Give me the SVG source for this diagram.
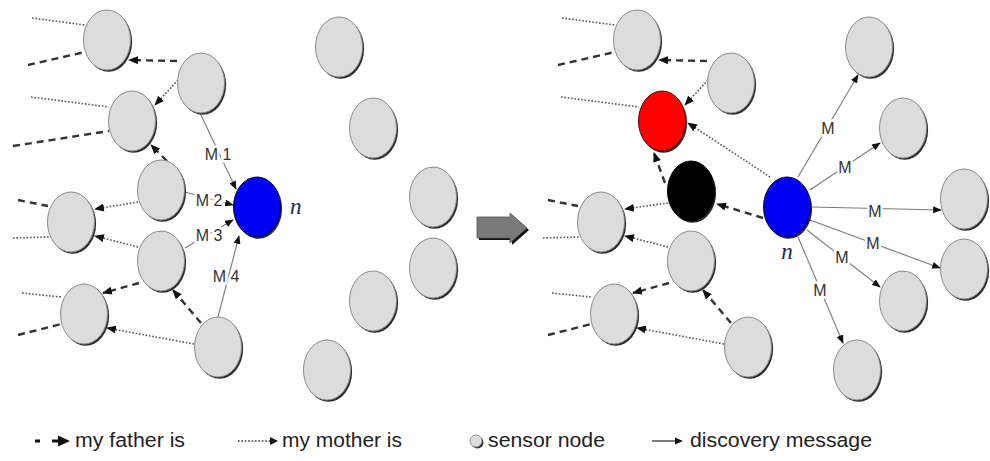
<svg xmlns="http://www.w3.org/2000/svg" width="990" height="461" viewBox="0 0 990 461">
  <style>
    .sh { fill: #2b2b2b; }
    .nd { fill: #dcdcdc; stroke: #8a8a8a; stroke-width: 1; }
    .blue { fill: #0000f5; stroke: #000040; stroke-width: 1; }
    .red { fill: #ff0000; stroke: #5a0000; stroke-width: 1; }
    .blk { fill: #000000; stroke: #000000; stroke-width: 1; }
    .dash { fill: none; stroke: #333; stroke-width: 2.4; stroke-dasharray: 7 5; }
    .dot { fill: none; stroke: #555; stroke-width: 1.6; stroke-dasharray: 1.6 1.8; }
    .msg { fill: none; stroke: #7a7a7a; stroke-width: 1.1; }
    .ml { font-family: "Liberation Sans", Arial, sans-serif; font-size: 16px; fill: #333; text-anchor: middle; dominant-baseline: central; stroke: #fff; stroke-width: 5; paint-order: stroke; }
    .nl { font-family: "Liberation Serif", "DejaVu Serif", serif; font-style: italic; font-size: 23px; fill: #1f2a4a; }
    .lg { font-family: "Liberation Sans", Arial, sans-serif; font-size: 20px; fill: #222; }
  </style>
  <defs>
    <marker id="ah" viewBox="0 0 10 8" refX="9" refY="4" markerWidth="10" markerHeight="8" markerUnits="userSpaceOnUse" orient="auto">
      <path d="M0,0 L10,4 L0,8 Z" fill="#111"/>
    </marker>
    <marker id="ahs" viewBox="0 0 10 8" refX="9" refY="4" markerWidth="9" markerHeight="7" markerUnits="userSpaceOnUse" orient="auto">
      <path d="M0,0 L10,4 L0,8 Z" fill="#111"/>
    </marker>
    <g id="gnode">
      <ellipse class="sh" cx="1.6" cy="1.8" rx="23.5" ry="30"/>
      <ellipse class="nd" cx="0" cy="0" rx="23.5" ry="30"/>
    </g>
  </defs>

  <!-- connectors -->
  <g id="connectors">
    <!-- left network -->
    <path class="dot" d="M32,18 L85,25"/>
    <path class="dash" d="M28,65 L85,52"/>
    <path class="dash" d="M177,61 L129,60" marker-end="url(#ah)"/>
    <path class="dot" d="M178,80 L155,105" marker-end="url(#ah)"/>
    <path class="dot" d="M31,97 L109,107"/>
    <path class="dash" d="M13,146 L109,131"/>
    <path class="dash" d="M167,161 L151,145" marker-end="url(#ah)"/>
    <path class="dot" d="M138,202 L95,209" marker-end="url(#ah)"/>
    <path class="dash" d="M18,200 L48,206"/>
    <path class="dot" d="M13,238 L49,237"/>
    <path class="dot" d="M138,247 L95,236" marker-end="url(#ah)"/>
    <path class="dash" d="M139,283 L103,293" marker-end="url(#ah)"/>
    <path class="dot" d="M22,293 L61,297"/>
    <path class="dash" d="M18,335 L61,324"/>
    <path class="dot" d="M194,344 L107,328" marker-end="url(#ah)"/>
    <path class="dash" d="M201,323 L173,290" marker-end="url(#ah)"/>
    <!-- messages towards n -->
    <path class="msg" d="M200,113 L236,189" marker-end="url(#ahs)"/>
    <path class="msg" d="M185,192 L233,205" marker-end="url(#ahs)"/>
    <path class="msg" d="M185,248 L233,220" marker-end="url(#ahs)"/>
    <path class="msg" d="M218,317 L239,236" marker-end="url(#ahs)"/>
    <text class="ml" x="218" y="154">M 1</text>
    <text class="ml" x="209" y="200">M 2</text>
    <text class="ml" x="209" y="235">M 3</text>
    <text class="ml" x="226" y="276">M 4</text>

    <!-- right network -->
    <path class="dot" d="M562,18 L615,25"/>
    <path class="dash" d="M558,65 L615,52"/>
    <path class="dash" d="M707,61 L659,60" marker-end="url(#ah)"/>
    <path class="dot" d="M708,80 L685,105" marker-end="url(#ah)"/>
    <path class="dot" d="M561,97 L639,107"/>
    <path class="dot" d="M770,177 L688,123" marker-end="url(#ah)"/>
    <path class="dash" d="M665,183 L654,153" marker-end="url(#ah)"/>
    <path class="dash" d="M763,218 L717,204" marker-end="url(#ah)"/>
    <path class="dot" d="M668,203 L625,209" marker-end="url(#ah)"/>
    <path class="dash" d="M548,200 L578,206"/>
    <path class="dot" d="M543,238 L579,237"/>
    <path class="dot" d="M668,247 L625,236" marker-end="url(#ah)"/>
    <path class="dash" d="M669,283 L633,293" marker-end="url(#ah)"/>
    <path class="dot" d="M552,293 L591,297"/>
    <path class="dash" d="M548,335 L591,324"/>
    <path class="dot" d="M724,344 L637,328" marker-end="url(#ah)"/>
    <path class="dash" d="M731,323 L703,290" marker-end="url(#ah)"/>
    <!-- discovery messages from n -->
    <path class="msg" d="M798,177 L858,75" marker-end="url(#ahs)"/>
    <path class="msg" d="M810,190 L880,143" marker-end="url(#ahs)"/>
    <path class="msg" d="M812,207 L941,210" marker-end="url(#ahs)"/>
    <path class="msg" d="M810,220 L940,268" marker-end="url(#ahs)"/>
    <path class="msg" d="M807,230 L880,287" marker-end="url(#ahs)"/>
    <path class="msg" d="M798,237 L843,343" marker-end="url(#ahs)"/>
    <text class="ml" x="828" y="128">M</text>
    <text class="ml" x="845" y="167">M</text>
    <text class="ml" x="875" y="211">M</text>
    <text class="ml" x="873" y="243">M</text>
    <text class="ml" x="842" y="257">M</text>
    <text class="ml" x="820" y="290">M</text>
  </g>

  <!-- left network nodes -->
  <g id="l-a"><use href="#gnode" x="107" y="40"/></g>
  <g id="l-b"><use href="#gnode" x="201" y="83"/></g>
  <g id="l-c"><use href="#gnode" x="132" y="121"/></g>
  <g id="l-d"><use href="#gnode" x="161" y="190"/></g>
  <g id="l-e"><use href="#gnode" x="71" y="222"/></g>
  <g id="l-f"><use href="#gnode" x="161" y="261"/></g>
  <g id="l-g"><use href="#gnode" x="84" y="314"/></g>
  <g id="l-h"><use href="#gnode" x="218" y="347"/></g>
  <g id="l-i"><use href="#gnode" x="339" y="47"/></g>
  <g id="l-j"><use href="#gnode" x="373" y="128"/></g>
  <g id="l-k"><use href="#gnode" x="433" y="197"/></g>
  <g id="l-l"><use href="#gnode" x="433" y="268"/></g>
  <g id="l-m"><use href="#gnode" x="373" y="301"/></g>
  <g id="l-n"><use href="#gnode" x="327" y="370"/></g>
  <g id="l-new">
    <ellipse class="sh" cx="258.6" cy="208.8" rx="23.5" ry="30"/>
    <ellipse class="blue" cx="257" cy="207" rx="23.5" ry="30"/>
    <text class="nl" x="290" y="214">n</text>
  </g>

  <!-- transition arrow -->
  <g id="step-arrow">
    <path d="M479,219 H512 V215 L529,230 L512,245 V240 H479 Z" fill="#111"/>
    <path d="M477,217 H510 V213 L527,228 L510,243 V238 H477 Z" fill="#7a7a7a" stroke="#555" stroke-width="0.8"/>
  </g>

  <!-- right network nodes -->
  <g id="r-a"><use href="#gnode" x="637" y="40"/></g>
  <g id="r-b"><use href="#gnode" x="731" y="83"/></g>
  <g id="r-mother">
    <ellipse class="sh" cx="663.6" cy="122.8" rx="23.5" ry="30"/>
    <ellipse class="red" cx="662" cy="121" rx="23.5" ry="30"/>
  </g>
  <g id="r-father">
    <ellipse class="sh" cx="692.6" cy="192.8" rx="23.5" ry="30"/>
    <ellipse class="blk" cx="691" cy="191" rx="23.5" ry="30"/>
  </g>
  <g id="r-e"><use href="#gnode" x="601" y="222"/></g>
  <g id="r-f"><use href="#gnode" x="691" y="261"/></g>
  <g id="r-g"><use href="#gnode" x="614" y="314"/></g>
  <g id="r-h"><use href="#gnode" x="748" y="347"/></g>
  <g id="r-t1"><use href="#gnode" x="869" y="47"/></g>
  <g id="r-t2"><use href="#gnode" x="903" y="128"/></g>
  <g id="r-t3"><use href="#gnode" x="964" y="199"/></g>
  <g id="r-t4"><use href="#gnode" x="964" y="269"/></g>
  <g id="r-t5"><use href="#gnode" x="903" y="301"/></g>
  <g id="r-t6"><use href="#gnode" x="857" y="370"/></g>
  <g id="r-new">
    <ellipse class="sh" cx="788.6" cy="208.8" rx="23.5" ry="30"/>
    <ellipse class="blue" cx="787" cy="207" rx="23.5" ry="30"/>
    <text class="nl" x="787" y="259" text-anchor="middle">n</text>
  </g>

  <!-- legend -->
  <g id="legend">
    <path d="M35,441 H40 M52,441 H60" stroke="#111" stroke-width="3" fill="none"/>
    <path d="M58,435.5 L70,441 L58,446.5 Z" fill="#111"/>
    <text class="lg" x="75" y="447" textLength="110" lengthAdjust="spacingAndGlyphs">my father is</text>
    <path d="M238,441 H271" stroke="#333" stroke-width="1.6" stroke-dasharray="1.6 1.8" fill="none"/>
    <path d="M270,437 L278,441 L270,445 Z" fill="#111"/>
    <text class="lg" x="282" y="447" textLength="120" lengthAdjust="spacingAndGlyphs">my mother is</text>
    <circle cx="477.5" cy="442.5" r="6" fill="#2b2b2b"/>
    <circle cx="476" cy="441" r="6" fill="#dcdcdc" stroke="#8a8a8a" stroke-width="1"/>
    <text class="lg" x="488" y="447" textLength="117" lengthAdjust="spacingAndGlyphs">sensor node</text>
    <path d="M652,441 H676" stroke="#333" stroke-width="1.3" fill="none"/>
    <path d="M675,437.5 L683,441 L675,444.5 Z" fill="#111"/>
    <text class="lg" x="690" y="447" textLength="182" lengthAdjust="spacingAndGlyphs">discovery message</text>
  </g>
</svg>
